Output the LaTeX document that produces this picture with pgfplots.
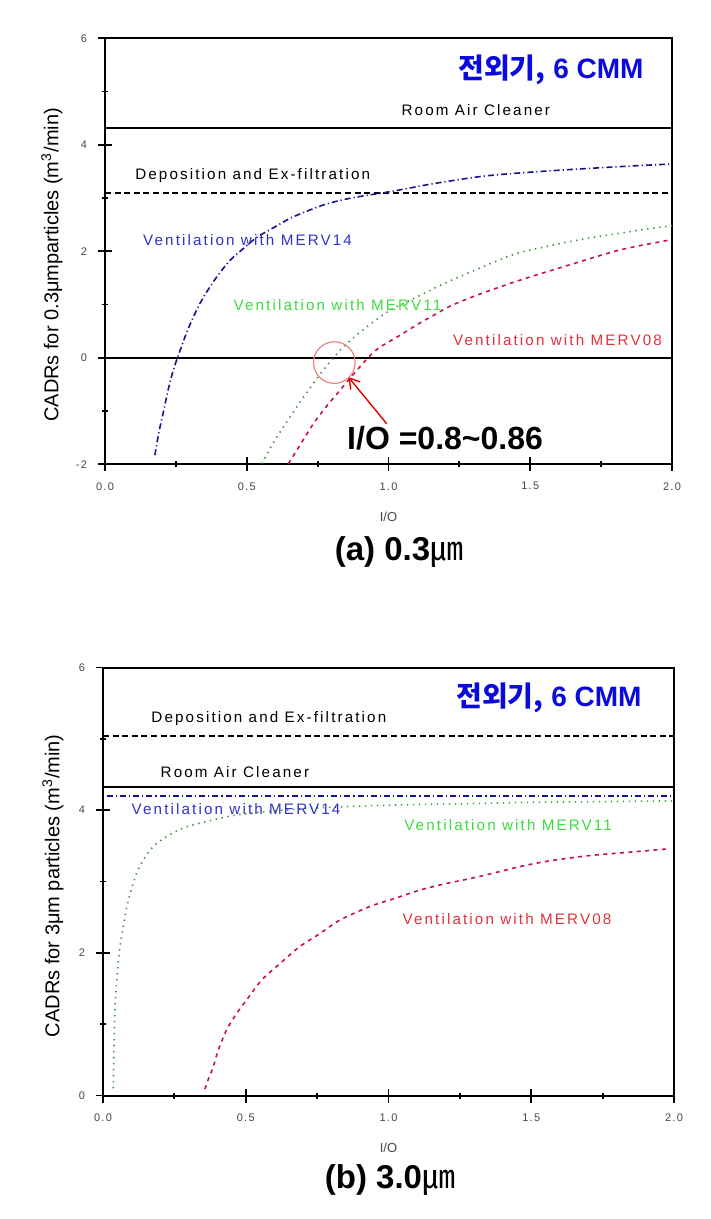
\documentclass[border=0pt]{standalone}
\usepackage{pgfplots}
\pgfplotsset{compat=1.18}
\usepackage{fontspec}
\setmainfont{Liberation Sans}
\newfontfamily\cjk{Noto Sans CJK KR}
\newfontfamily\spaced[LetterSpace=14]{Liberation Sans}
\newfontfamily\ticks[LetterSpace=12]{Liberation Sans}
\usetikzlibrary{arrows.meta}

\definecolor{navyline}{RGB}{20,20,140}
\definecolor{greenline}{RGB}{60,150,60}
\definecolor{redline}{RGB}{200,20,60}
\definecolor{bluetxt}{RGB}{50,50,200}
\definecolor{greentxt}{RGB}{60,220,60}
\definecolor{redtxt}{RGB}{225,50,60}
\definecolor{titleblue}{RGB}{10,10,220}
\definecolor{circ}{RGB}{235,130,130}
\definecolor{tickgray}{RGB}{70,70,70}

\tikzset{lbl/.style={font=\spaced\fontsize{7.6}{8}\selectfont}}

\pgfplotsset{
  cadr/.style={
    scale only axis,
    xmin=0, xmax=2,
    xtick={0,0.5,1,1.5,2},
    minor x tick num=1, minor y tick num=1,
    xtick pos=left, ytick pos=left,
    tick align=center,
    major tick length=7pt, minor tick length=3pt,
    axis line style={line width=1pt},
    every tick/.style={black, line width=0.9pt},
    tick label style={font=\ticks\fontsize{5.5}{6}\selectfont, text=tickgray},
    /pgf/number format/assume math mode=true,
    x tick label style={/pgf/number format/fixed, /pgf/number format/fixed zerofill,
      /pgf/number format/precision=1, yshift=-2pt},
    y tick label style={xshift=-2pt},
    xlabel={I/O},
    xlabel style={font=\fontsize{6.5}{7}\selectfont, text=tickgray,
      at={(axis description cs:0.5,-0.123)}, anchor=center},
    ylabel style={font=\fontsize{10}{12}\selectfont, anchor=center},
  },
  merv14/.style={navyline, line width=0.8pt, dash pattern=on 3pt off 1.5pt on 0.6pt off 1.5pt},
  merv11/.style={greenline, line width=0.8pt, dash pattern=on 0.7pt off 2.3pt},
  merv08/.style={redline, line width=0.8pt, dash pattern=on 2pt off 2.2pt},
}

\begin{document}
\begin{tikzpicture}
\path[use as bounding box] (0,0) rectangle (355.5pt,-609.5pt);

% (a) 0.3 um
\begin{axis}[cadr,
  at={(52.5pt,-19.15pt)}, anchor=north west,
  width=283.5pt, height=213pt,
  ymin=-2, ymax=6, ytick={-2,0,2,4,6},
  ylabel={CADRs for 0.3μmparticles (m\textsuperscript{3}/min)},
  ylabel style={at={(axis description cs:-0.0935,0.468)}},
]
\addplot[black, line width=0.9pt] coordinates {(0,4.32) (2,4.32)};
\addplot[black, line width=0.9pt, dash pattern=on 3pt off 1.8pt] coordinates {(0,3.09) (2,3.09)};
\addplot[black, line width=0.9pt] coordinates {(0,0) (2,0)};

\addplot[merv14, smooth] coordinates {
(0.176,-1.83) (0.19,-1.40) (0.206,-1.02) (0.222,-0.62) (0.241,-0.23) (0.265,0.14)
(0.29,0.50) (0.312,0.77) (0.34,1.07) (0.370,1.33) (0.40,1.56) (0.441,1.83)
(0.49,2.06) (0.535,2.26) (0.60,2.46) (0.653,2.62) (0.72,2.77) (0.782,2.89)
(0.85,2.98) (0.923,3.05) (1.017,3.13) (1.158,3.27) (1.334,3.41) (1.511,3.49)
(1.687,3.55) (1.85,3.60) (2.0,3.64)};

\addplot[merv11, smooth] coordinates {
(0.553,-1.99) (0.59,-1.63) (0.629,-1.30) (0.665,-1.01) (0.700,-0.74) (0.735,-0.48)
(0.770,-0.23) (0.80,-0.04) (0.829,0.14) (0.875,0.37) (0.923,0.58) (1.005,0.89)
(1.111,1.17) (1.19,1.38) (1.276,1.58) (1.36,1.77) (1.452,1.96) (1.54,2.07)
(1.628,2.17) (1.72,2.26) (1.805,2.33) (1.9,2.41) (2.0,2.48)};

\addplot[merv08, smooth] coordinates {
(0.647,-1.99) (0.69,-1.62) (0.735,-1.24) (0.78,-0.92) (0.829,-0.61) (0.865,-0.38)
(0.899,-0.17) (0.935,0.04) (0.970,0.20) (1.04,0.42) (1.10,0.62) (1.16,0.80)
(1.217,0.97) (1.28,1.11) (1.334,1.22) (1.42,1.38) (1.50,1.52) (1.58,1.65)
(1.66,1.78) (1.746,1.92) (1.82,2.03) (1.90,2.12) (1.99,2.21)};

% annotation: crossing circle and arrow
\addplot[only marks, mark=o, mark size=10.4pt, mark options={draw=circ, line width=0.6pt}]
  coordinates {(0.809,-0.09)};
\addplot[red!90!black, line width=0.7pt, -{Straight Barb[length=5pt,width=6pt]}]
  coordinates {(0.994,-1.24) (0.858,-0.36)};

\node[lbl] at (axis cs:1.308,4.65) {Room Air Cleaner};
\node[lbl] at (axis cs:0.521,3.42) {Deposition and Ex-filtration};
\node[lbl, text=bluetxt] at (axis cs:0.503,2.21) {Ventilation with MERV14};
\node[lbl, text=greentxt] at (axis cs:0.820,0.986) {Ventilation with MERV11};
\node[lbl, text=redtxt] at (axis cs:1.596,0.329) {Ventilation with MERV08};
\node[font=\bfseries\fontsize{14}{16}\selectfont, text=titleblue] at (axis cs:1.573,5.40)
  {{\cjk\bfseries 전외기,} 6 CMM};
\node[anchor=west, font=\bfseries\fontsize{16}{18}\selectfont, inner sep=0pt]
  at (axis cs:0.853,-1.52) {I/O =0.8\textasciitilde0.86};
\end{axis}

\node[font=\bfseries\fontsize{16.5}{18}\selectfont] at (199.5pt,-276pt)
  {(a) 0.3{\cjk\mdseries ㎛}};

% (b) 3.0 um
\begin{axis}[cadr,
  at={(51.5pt,-333.75pt)}, anchor=north west,
  width=285.5pt, height=214pt,
  ymin=0, ymax=6, ytick={0,2,4,6},
  ylabel={CADRs for 3μm particles (m\textsuperscript{3}/min)},
  ylabel style={at={(axis description cs:-0.0876,0.49)}},
]
\addplot[black, line width=0.9pt, dash pattern=on 3pt off 1.8pt] coordinates {(0,5.04) (2,5.04)};
\addplot[black, line width=0.9pt] coordinates {(0,4.33) (2,4.33)};

\addplot[merv14] coordinates {(0.013,4.20) (2.0,4.20)};

\addplot[merv11, smooth] coordinates {
(0.036,0.10) (0.038,0.60) (0.042,1.20) (0.047,1.55) (0.054,1.90) (0.062,2.15)
(0.071,2.37) (0.082,2.62) (0.095,2.83) (0.118,3.12) (0.141,3.30) (0.176,3.49)
(0.223,3.63) (0.281,3.75) (0.340,3.82) (0.392,3.87) (0.45,3.92) (0.5,3.95)
(0.6,3.99) (0.7,4.02) (0.85,4.05) (1.0,4.07) (1.25,4.09) (1.5,4.11)
(1.75,4.12) (2.0,4.13)};

\addplot[merv08, smooth] coordinates {
(0.357,0.09) (0.37,0.24) (0.386,0.40) (0.404,0.64) (0.433,0.92) (0.468,1.15)
(0.503,1.34) (0.556,1.62) (0.620,1.85) (0.690,2.09) (0.760,2.27) (0.830,2.46)
(0.935,2.65) (1.02,2.76) (1.110,2.88) (1.20,2.97) (1.285,3.04) (1.37,3.12)
(1.461,3.21) (1.55,3.28) (1.636,3.33) (1.72,3.37) (1.811,3.40) (1.90,3.43)
(1.986,3.46)};

\node[lbl] at (axis cs:0.581,5.28) {Deposition and Ex-filtration};
\node[lbl] at (axis cs:0.462,4.53) {Room Air Cleaner};
\node[lbl, text=bluetxt] at (axis cs:0.466,4.02) {Ventilation with MERV14};
\node[lbl, text=greentxt] at (axis cs:1.419,3.79) {Ventilation with MERV11};
\node[lbl, text=redtxt] at (axis cs:1.415,2.47) {Ventilation with MERV08};
\node[font=\bfseries\fontsize{14}{16}\selectfont, text=titleblue] at (axis cs:1.562,5.57)
  {{\cjk\bfseries 전외기,} 6 CMM};
\end{axis}

\node[font=\bfseries\fontsize{16.5}{18}\selectfont] at (195pt,-590pt)
  {(b) 3.0{\cjk\mdseries ㎛}};
\end{tikzpicture}
\end{document}
